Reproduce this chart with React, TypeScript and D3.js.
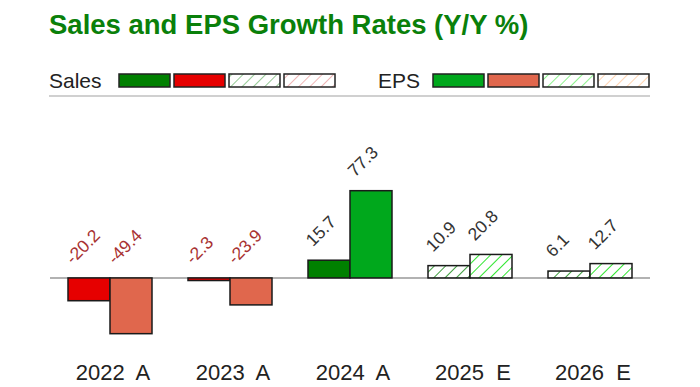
import * as d3 from 'd3';

const years = ['2022', '2023', '2024', '2025', '2026'];
const periodKind = ['A', 'A', 'A', 'E', 'E'];
const salesGrowth = [-20.2, -2.3, 15.7, 10.9, 6.1];
const epsGrowth = [-49.4, -23.9, 77.3, 20.8, 12.7];
const seriesKeys = ['sales', 'eps'];

const WIDTH = 700;
const HEIGHT = 387;

// fills: [actual +, actual -, estimate +, estimate -]
const fills: Record<string, string[]> = {
  sales: ['#008000', '#e60000', 'url(#hSalesPos)', 'url(#hSalesNeg)'],
  eps: ['#00a81c', '#e0674d', 'url(#hEpsPos)', 'url(#hEpsNeg)'],
};

const hatches = [
  { id: 'hSalesPos', color: '#3c9c3c' },
  { id: 'hSalesNeg', color: '#e07a7a' },
  { id: 'hEpsPos', color: '#2ee62e' },
  { id: 'hEpsNeg', color: '#ffb070' },
];

const fillFor = (key: string, v: number, est: boolean) =>
  fills[key][(est ? 2 : 0) + (v < 0 ? 1 : 0)];

export default function App() {
  const x0 = d3
    .scaleBand<string>()
    .domain(years)
    .range([50, 650])
    .paddingInner(0.3)
    .paddingOuter(0.15);
  const x1 = d3
    .scaleBand<string>()
    .domain(seriesKeys)
    .range([0, x0.bandwidth()]);
  const y = d3.scaleLinear().domain([-55, 85]).range([340, 182]);

  const rows = years.map((yr, i) => ({
    yr,
    est: periodKind[i] === 'E',
    sales: salesGrowth[i],
    eps: epsGrowth[i],
  }));

  const legendX = { sales: 119, eps: 433 };

  return (
    <svg
      width={WIDTH}
      height={HEIGHT}
      style={{ position: 'absolute', left: 0, top: 0, fontFamily: 'Liberation Sans, Arial, sans-serif' }}
    >
      <defs>
        {hatches.map((h) => (
          <pattern
            key={h.id}
            id={h.id}
            patternUnits="userSpaceOnUse"
            width={8}
            height={8}
            patternTransform="rotate(45)"
          >
            <rect width={8} height={8} fill="white" />
            <line x1={0} y1={0} x2={0} y2={8} stroke={h.color} strokeWidth={2} />
          </pattern>
        ))}
      </defs>
      <rect width={WIDTH} height={HEIGHT} fill="white" />

      <text x={49} y={34} fontSize={27.5} fontWeight="bold" fill="#0a800a">
        Sales and EPS Growth Rates (Y/Y %)
      </text>

      {/* legend */}
      {seriesKeys.map((key) => (
        <g key={key}>
          <text x={key === 'sales' ? 49 : 378} y={87.5} fontSize={21} fill="#222">
            {key === 'sales' ? 'Sales' : 'EPS'}
          </text>
          {fills[key].map((f, j) => (
            <rect
              key={j}
              x={legendX[key as 'sales' | 'eps'] + j * 55}
              y={74}
              width={51}
              height={13}
              fill={f}
              fillOpacity={j >= 2 ? 0.55 : 1}
              stroke="#222"
              strokeWidth={1.5}
            />
          ))}
        </g>
      ))}
      <line x1={49} x2={650} y1={96} y2={96} stroke="#d0d0d0" strokeWidth={2} />

      {/* zero line */}
      <line x1={50} x2={650} y1={y(0)} y2={y(0)} stroke="#999" strokeWidth={1.5} />

      {rows.map((r) => (
        <g key={r.yr} transform={`translate(${x0(r.yr)},0)`}>
          {seriesKeys.map((key) => {
            const v = r[key as 'sales' | 'eps'];
            const bx = x1(key) as number;
            const top = Math.min(y(v), y(0));
            const h = Math.abs(y(v) - y(0));
            const lx = bx + 5;
            const ly = Math.min(y(v), y(0)) - 13;
            return (
              <g key={key}>
                <rect
                  x={bx}
                  y={top}
                  width={x1.bandwidth()}
                  height={h}
                  fill={fillFor(key, v, r.est)}
                  stroke="#1a1a1a"
                  strokeWidth={1.5}
                />
                <text
                  transform={`translate(${lx},${ly}) rotate(-45)`}
                  fontSize={17.5}
                  fill={v < 0 ? '#a83232' : '#333'}
                >
                  {v.toFixed(1)}
                </text>
              </g>
            );
          })}
        </g>
      ))}

      {rows.map((r, i) => (
        <text
          key={r.yr}
          x={(x0(r.yr) as number) + x0.bandwidth() / 2 + 3}
          y={380}
          fontSize={22}
          textAnchor="middle"
          fill="#222"
          style={{ whiteSpace: 'pre' }}
        >
          {`${r.yr}  ${periodKind[i]}`}
        </text>
      ))}
    </svg>
  );
}
